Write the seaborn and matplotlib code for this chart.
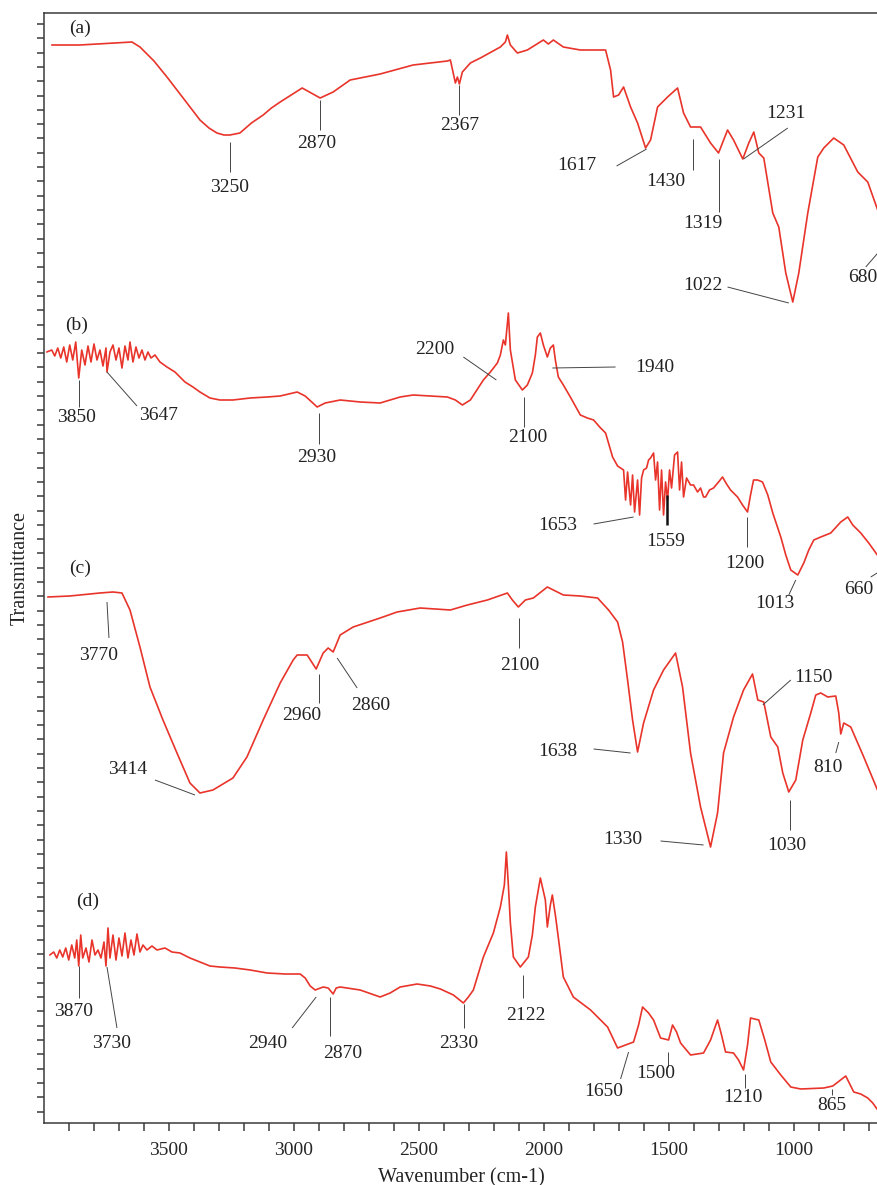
import numpy as np
import pandas as pd
import matplotlib
matplotlib.use("Agg")
import matplotlib.pyplot as plt
import seaborn as sns

# ---------------- data (wavenumber cm-1, offset transmittance a.u.) ----------------
wn_a = [3969, 3857, 3648, 3616, 3560, 3508, 3428, 3376, 3340, 3308, 3280, 3256, 3216, 3170,
        3123, 3090, 3055, 2967, 2895,
        2843, 2775, 2655, 2523, 2386, 2374, 2354, 2346, 2338, 2326, 2294, 2254, 2174, 2154,
        2146, 2134, 2106, 2066, 2002, 1982, 1962, 1922, 1854, 1753, 1733, 1721, 1701, 1681,
        1653, 1625, 1593, 1573, 1545, 1505, 1465, 1441, 1413, 1373, 1333, 1301, 1265, 1241,
        1204, 1180, 1160, 1140, 1120, 1084, 1060, 1032, 1004, 980, 944, 904, 880, 840, 800,
        744, 704, 660]
tr_a = [1078, 1078, 1081, 1076, 1062, 1046, 1020, 1003, 995, 990, 988, 988, 990, 1000,
        1008, 1015, 1021, 1035, 1025,
        1031, 1043, 1049, 1058, 1062, 1063, 1040, 1046, 1039, 1051, 1060, 1065, 1076, 1081,
        1088, 1078, 1070, 1073, 1083, 1079, 1083, 1076, 1073, 1073, 1053, 1026, 1028, 1036,
        1016, 1000, 975, 983, 1016, 1026, 1035, 1010, 996, 996, 980, 970, 993, 983,
        964, 980, 991, 970, 965, 910, 896, 850, 821, 850, 910, 966, 975, 985, 978,
        951, 941, 910]

wn_b = [3989, 3969, 3957, 3945, 3933, 3921, 3909, 3897, 3885, 3873, 3861, 3849, 3836, 3824,
        3812, 3800, 3788, 3776, 3764, 3752, 3748, 3736, 3724, 3712, 3700, 3688, 3676, 3664,
        3656, 3644, 3632, 3620, 3608, 3596, 3584, 3572, 3556, 3536, 3508, 3476, 3436, 3404,
        3376, 3336, 3296, 3244, 3175, 3107, 3055, 2987, 2955, 2907, 2875, 2815, 2735, 2655,
        2575, 2523, 2454, 2386, 2354, 2326, 2294, 2242, 2214, 2186, 2174, 2162, 2154, 2142,
        2134, 2114, 2086, 2066, 2046, 2034, 2026, 2014, 2002, 1986, 1974, 1962, 1954, 1942,
        1922, 1894, 1854, 1826, 1801, 1773, 1753, 1725, 1705, 1681, 1673, 1665, 1653, 1645,
        1637, 1625, 1617, 1609, 1601, 1589, 1581, 1573, 1561, 1553, 1545, 1537, 1529, 1521,
        1513, 1505, 1497, 1489, 1477, 1465, 1457, 1449, 1441, 1429, 1413, 1401, 1385, 1373,
        1361, 1353, 1337, 1321, 1301, 1285, 1269, 1253, 1225, 1205, 1185, 1173, 1161, 1145,
        1125, 1104, 1084, 1052, 1032, 1012, 984, 960, 940, 920, 892, 852, 812, 784, 764,
        732, 700, 660]
tr_b = [771, 773, 767, 775, 765, 776, 761, 778, 763, 781, 745, 773, 758, 777,
        761, 779, 763, 773, 757, 775, 751, 771, 778, 763, 775, 755, 777, 763,
        781, 761, 776, 765, 773, 763, 771, 765, 768, 761, 756, 751, 741, 736,
        731, 725, 723, 723, 725, 726, 727, 731, 727, 716, 720, 723, 721, 720,
        726, 728, 727, 726, 723, 718, 723, 743, 751, 760, 768, 783, 778, 810,
        773, 743, 733, 738, 750, 768, 786, 790, 778, 766, 775, 778, 763, 746,
        738, 726, 708, 705, 703, 695, 690, 666, 657, 653, 623, 651, 618, 648,
        611, 643, 608, 645, 653, 655, 663, 665, 670, 643, 661, 613, 653, 608,
        641, 623, 653, 635, 668, 671, 633, 661, 626, 645, 638, 638, 631, 635,
        626, 626, 633, 635, 641, 646, 639, 633, 626, 618, 611, 628, 643, 643,
        641, 628, 610, 586, 568, 553, 548, 560, 573, 583, 586, 590, 601, 606, 598,
        590, 580, 566]

wn_c = [3985, 3897, 3776, 3724, 3688, 3656, 3616, 3576, 3524, 3468, 3416, 3376, 3324, 3244,
        3188, 3123, 3055, 3003, 2987, 2947, 2911, 2883, 2863, 2843, 2815, 2763, 2655, 2587,
        2495, 2374, 2306, 2226, 2146, 2126, 2102, 2074, 2042, 1986, 1922, 1854, 1785, 1741,
        1705, 1685, 1665, 1645, 1625, 1601, 1561, 1521, 1473, 1445, 1413, 1373, 1333, 1305,
        1281, 1241, 1201, 1165, 1144, 1120, 1092, 1064, 1044, 1020, 992, 964, 932, 912,
        892, 864, 832, 820, 812, 800, 772, 720, 660]
tr_c = [526, 527, 530, 531, 530, 513, 476, 436, 403, 370, 340, 330, 333, 345,
        366, 403, 440, 463, 468, 468, 454, 470, 475, 471, 488, 496, 505, 511,
        515, 513, 518, 523, 530, 523, 516, 523, 525, 536, 528, 527, 525, 513,
        501, 481, 443, 403, 371, 400, 433, 453, 470, 436, 370, 316, 276, 310,
        370, 406, 433, 449, 423, 421, 386, 376, 350, 331, 343, 383, 410, 428,
        430, 426, 427, 410, 389, 400, 396, 366, 330]

wn_d = [3977, 3961, 3949, 3937, 3925, 3913, 3901, 3889, 3877, 3869, 3861, 3853, 3845, 3832,
        3820, 3808, 3796, 3784, 3772, 3760, 3752, 3744, 3736, 3724, 3712, 3700, 3688, 3676,
        3664, 3652, 3640, 3628, 3616, 3604, 3588, 3568, 3548, 3516, 3488, 3456, 3416, 3376,
        3336, 3296, 3236, 3175, 3107, 3035, 2975, 2955, 2935, 2915, 2883, 2863, 2843, 2831,
        2815, 2735, 2655, 2615, 2575, 2507, 2454, 2414, 2362, 2322, 2302, 2282, 2242, 2202,
        2174, 2158, 2150, 2142, 2134, 2122, 2094, 2062, 2046, 2034, 2014, 1994, 1986, 1974,
        1966, 1954, 1946, 1922, 1882, 1813, 1745, 1705, 1673, 1641, 1621, 1605, 1581, 1561,
        1533, 1501, 1485, 1469, 1453, 1413, 1361, 1333, 1305, 1289, 1273, 1241, 1221, 1201,
        1185, 1173, 1140, 1116, 1092, 1052, 1012, 972, 880, 844, 792, 760, 732, 704, 684, 664]
tr_d = [168, 171, 165, 173, 166, 175, 163, 178, 165, 183, 157, 188, 165, 175,
        161, 183, 168, 173, 165, 181, 157, 195, 165, 188, 163, 185, 167, 190,
        165, 183, 168, 189, 171, 178, 173, 177, 173, 175, 171, 170, 165, 161,
        157, 156, 155, 153, 150, 149, 149, 145, 137, 133, 136, 135, 129, 135,
        136, 133, 126, 130, 136, 139, 137, 134, 128, 120, 126, 133, 166, 190,
        216, 238, 271, 238, 200, 166, 156, 166, 188, 216, 245, 223, 196, 218,
        228, 208, 193, 146, 126, 113, 96, 75, 78, 81, 98, 116, 110, 103,
        85, 83, 98, 91, 80, 68, 70, 83, 103, 88, 71, 70, 63, 53,
        78, 105, 103, 83, 61, 48, 36, 34, 35, 37, 47, 31, 29, 25, 20, 13]

panel_names = ["(a)", "(b)", "(c)", "(d)"]
x_tick_labels = ["3500", "3000", "2500", "2000", "1500", "1000"]

# ---------------- annotation layout: text, text pos, leader line ----------------
annotations = [
    # panel a
    ("3250", 3256, 936, 3256, 981, 3256, 951),
    ("2870", 2907, 980, 2895, 1023, 2895, 993),
    ("2367", 2338, 997, 2338, 1038, 2338, 1008),
    ("1617", 1866, 957, 1709, 957, 1589, 974),
    ("1430", 1513, 942, 1405, 984, 1405, 953),
    ("1319", 1365, 900, 1301, 964, 1301, 911),
    ("1231", 1032, 1010, 1201, 964, 1024, 995),
    ("1022", 1365, 837, 1265, 836, 1020, 820),
    ("680", 724, 845, 712, 856, 660, 871),
    # panel b
    ("3850", 3869, 705, 3861, 743, 3861, 716),
    ("3647", 3540, 707, 3748, 751, 3628, 717),
    ("2930", 2907, 665, 2899, 710, 2899, 679),
    ("2200", 2438, 773, 2322, 766, 2190, 743),
    ("2100", 2066, 686, 2078, 726, 2078, 696),
    ("1940", 1557, 756, 1966, 755, 1713, 756),
    ("1653", 1946, 597, 1801, 599, 1641, 606),
    ("1559", 1513, 582, 1509, 628, 1509, 598),
    ("1200", 1197, 560, 1188, 606, 1188, 576),
    ("1013", 1076, 520, 992, 543, 1020, 528),
    ("660", 740, 534, 692, 546, 660, 551),
    # panel c
    ("3770", 3780, 468, 3748, 521, 3740, 485),
    ("3414", 3664, 354, 3556, 343, 3396, 328),
    ("2960", 2967, 408, 2899, 449, 2899, 420),
    ("2860", 2691, 417, 2827, 465, 2747, 435),
    ("2100", 2098, 458, 2098, 505, 2098, 475),
    ("1638", 1946, 372, 1801, 374, 1653, 370),
    ("1330", 1685, 284, 1533, 282, 1361, 278),
    ("1150", 920, 445, 1124, 418, 1012, 443),
    ("1030", 1028, 277, 1016, 323, 1016, 293),
    ("810", 864, 355, 820, 381, 832, 370),
    # panel d
    ("3870", 3881, 111, 3861, 157, 3861, 125),
    ("3730", 3728, 80, 3748, 156, 3708, 95),
    ("2940", 3103, 80, 2911, 126, 3007, 95),
    ("2870", 2803, 70, 2855, 126, 2855, 87),
    ("2330", 2342, 80, 2318, 119, 2318, 95),
    ("2122", 2070, 108, 2082, 148, 2082, 125),
    ("1650", 1761, 32, 1661, 71, 1693, 44),
    ("1500", 1553, 49, 1505, 71, 1505, 56),
    ("1210", 1205, 26, 1197, 49, 1197, 35),
    ("865", 848, 17, 848, 34, 848, 28),
]
panel_label_pos = [(3857, 1095), (3869, 798), (3857, 555), (3825, 222)]

# ---------------- build long table ----------------
frames = []
for name, w, t in zip(panel_names, [wn_a, wn_b, wn_c, wn_d], [tr_a, tr_b, tr_c, tr_d]):
    frames.append(pd.DataFrame({"wavenumber": w, "transmittance": t, "sample": name}))
df = pd.concat(frames, ignore_index=True)

# ---------------- styling ----------------
sns.set_style("ticks")
plt.rcParams["font.family"] = ["Liberation Serif", "DejaVu Serif"]
plt.rcParams["axes.linewidth"] = 1.1
plt.rcParams["axes.edgecolor"] = "#3a3a3a"

fig = plt.figure(figsize=(8.78, 11.85), dpi=100)
ax = fig.add_axes([44 / 878, 1 - 1123 / 1185, (878 - 44) / 878, (1123 - 13) / 1185])

red = "#E8342A"
for name in panel_names:
    sub = df[df["sample"] == name]
    sns.lineplot(data=sub, x="wavenumber", y="transmittance", sort=False,
                 estimator=None, color=red, lw=1.2, ax=ax, legend=False)

ax.set_xlim(4000, 663)
ax.set_ylim(0, 1110)

# x ticks every 100, labels at 500s
xt = np.arange(3900, 650, -100)
ax.set_xticks(xt)
lab_vals = [int(s) for s in x_tick_labels]
ax.set_xticklabels([str(v) if v in lab_vals else "" for v in xt])
ax.tick_params(axis="x", direction="out", length=6, width=1.1, color="#3a3a3a",
               labelsize=14, pad=8)
yt = np.arange(1099, 0, -14.31)
ax.set_yticks(yt)
ax.set_yticklabels([])
ax.tick_params(axis="y", direction="out", length=5, width=1.1, color="#3a3a3a")

ax.spines["right"].set_visible(False)
ax.spines["top"].set_visible(True)

ax.set_xlabel("Wavenumber (cm-1)", fontsize=14.5, color="#222222", labelpad=6)
ax.set_ylabel("Transmittance", fontsize=14.5, color="#222222")
ax.yaxis.set_label_coords(-0.017, 0.5)

for txt, tx, ty, x0, y0, x1, y1 in annotations:
    lw = 1.8 if txt == "1559" else 0.7
    col = "#111111" if txt == "1559" else "#444444"
    ax.plot([x0, x1], [y0, y1], color=col, lw=lw, solid_capstyle="butt")
    ax.text(tx, ty, txt, ha="center", va="center", fontsize=14, color="#222222")

for name, (px, py) in zip(panel_names, panel_label_pos):
    ax.text(px, py, name, ha="center", va="center", fontsize=14, color="#222222")

fig.savefig("out.png", dpi=100)
